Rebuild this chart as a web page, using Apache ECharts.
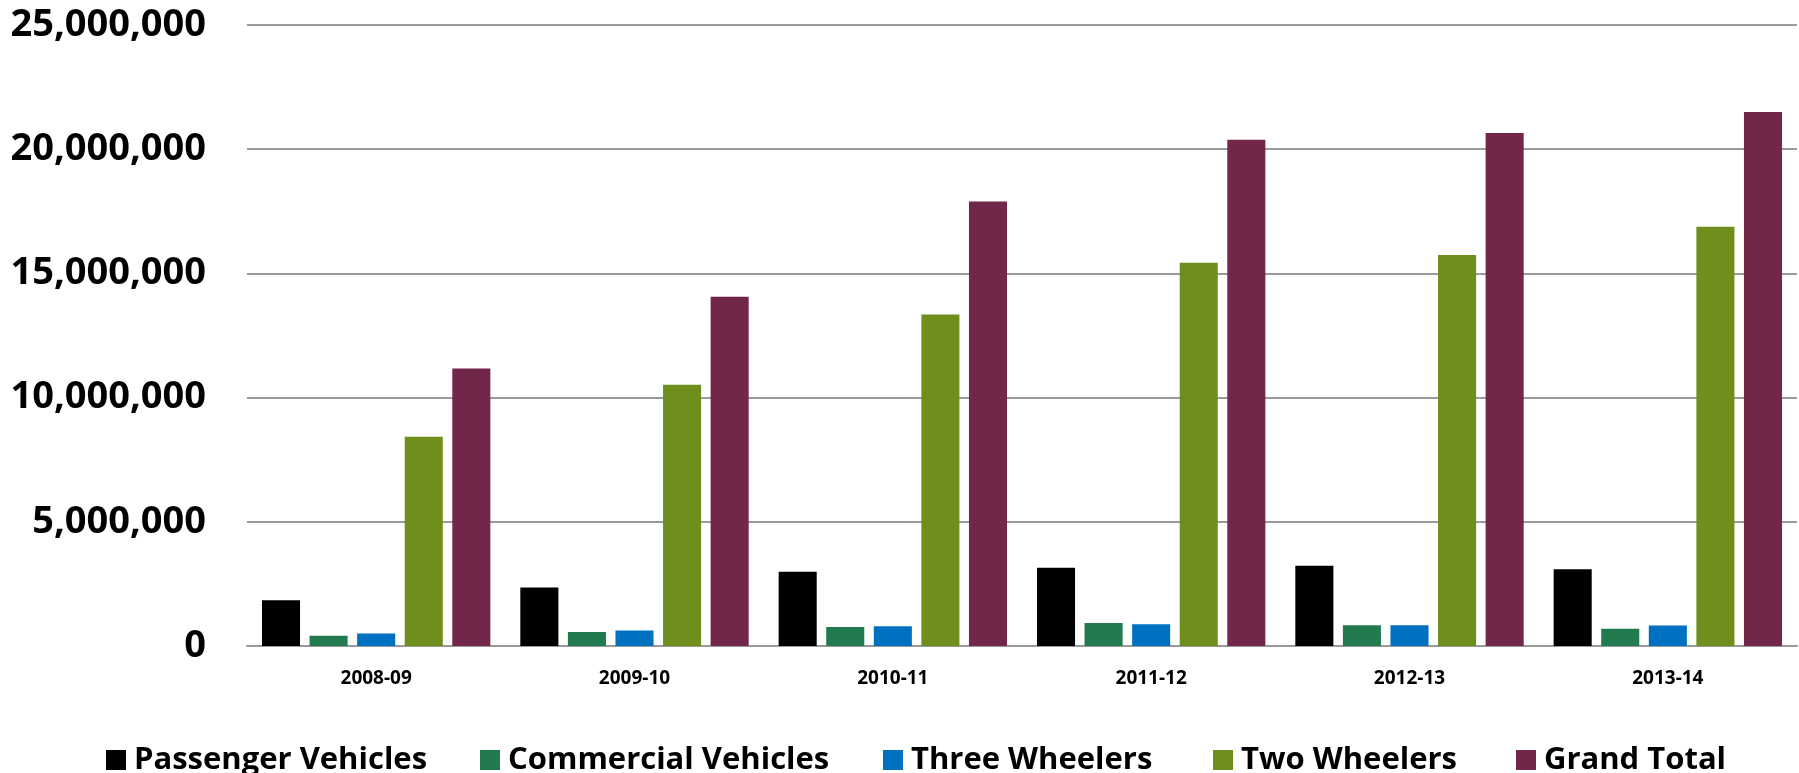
<!DOCTYPE html>
<html>
<head>
<meta charset="utf-8">
<script src="https://cdn.jsdelivr.net/npm/echarts@6/dist/echarts.min.js"></script>
<style>html,body{margin:0;padding:0;background:#fff}#c{width:1799px;height:773px}</style>
</head>
<body>
<div id="c"></div>
<script>
var categories = ['2008-09', '2009-10', '2010-11', '2011-12', '2012-13', '2013-14'];
var seriesNames = ['Passenger Vehicles', 'Commercial Vehicles', 'Three Wheelers', 'Two Wheelers', 'Grand Total'];
var passengerVehicles = [1838593, 2357411, 2987296, 3146069, 3231058, 3087973];
var commercialVehicles = [416870, 567556, 760735, 929136, 832649, 699035];
var threeWheelers = [500660, 619194, 799553, 879289, 839742, 830108];
var twoWheelers = [8419792, 10512903, 13349349, 15427532, 15744156, 16883049];
var grandTotal = [11175915, 14057064, 17896933, 20382026, 20647605, 21500165];
var yTicks = [0, 5000000, 10000000, 15000000, 20000000, 25000000];

var colors = ['#000000', '#217B4F', '#0070C0', '#6F8F1C', '#72264A'];
var values = [passengerVehicles, commercialVehicles, threeWheelers, twoWheelers, grandTotal];
var FONT = '"Open Sans", sans-serif';
var legendLefts = [106, 480, 883, 1213, 1516];

var chart = echarts.init(document.getElementById('c'), null, {renderer: 'canvas'});
var series = seriesNames.map(function (n, i) {
  return {
    name: n, type: 'bar', data: values[i],
    barGap: '25%', barCategoryGap: '11.6%',
    itemStyle: {color: colors[i]}
  };
});
var legends = seriesNames.map(function (n, i) {
  return {
    data: [n], left: legendLefts[i], top: 742, itemWidth: 20, itemHeight: 20,
    itemGap: 9, icon: 'rect', padding: 0,
    textStyle: {fontFamily: FONT, fontWeight: 'bold', fontSize: 31, color: '#000', lineHeight: 36, padding: [0, 0, 0, 3]}
  };
});
chart.setOption({
  animation: false,
  color: colors,
  grid: {left: 247, right: 2, top: 25, bottom: 127},
  legend: legends,
  xAxis: {
    type: 'category', data: categories,
    axisTick: {show: false},
    axisLine: {lineStyle: {color: '#9a9a9a', width: 2}},
    axisLabel: {fontFamily: FONT, fontWeight: 'bold', fontSize: 19, color: '#000', margin: 23}
  },
  yAxis: {
    type: 'value', min: yTicks[0], max: yTicks[yTicks.length - 1], interval: yTicks[1] - yTicks[0],
    axisLine: {show: false}, axisTick: {show: false},
    splitLine: {lineStyle: {color: '#9a9a9a', width: 2}},
    axisLabel: {
      fontFamily: FONT, fontWeight: 'bold', fontSize: 38, color: '#000', margin: 41,
      formatter: function (v) { return v.toLocaleString('en-US'); }
    }
  },
  series: series
});
</script>
</body>
</html>
